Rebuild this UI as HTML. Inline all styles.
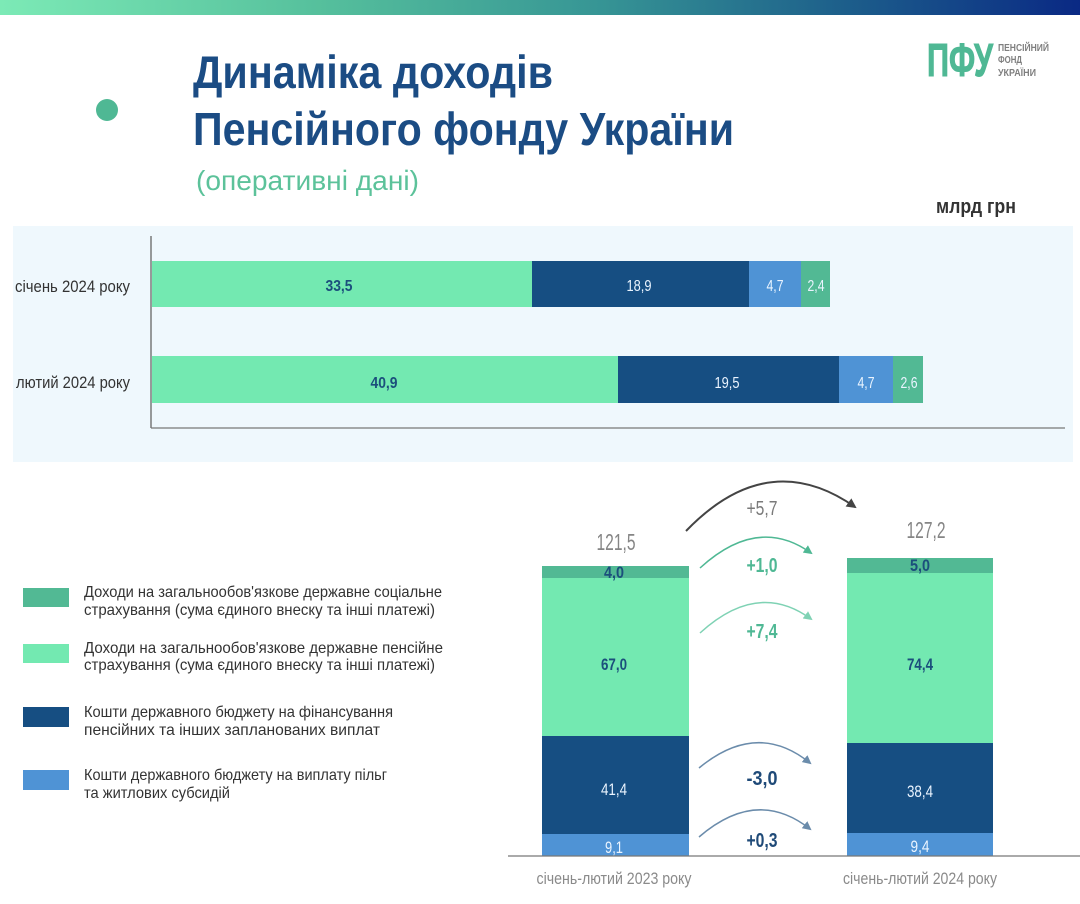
<!DOCTYPE html>
<html><head><meta charset="utf-8">
<style>
html,body{margin:0;padding:0;background:#fff;}
svg{display:block;}
text{font-family:"Liberation Sans Narrow","Liberation Sans","DejaVu Sans Condensed",sans-serif;}
</style></head>
<body>
<svg width="1080" height="904" viewBox="0 0 1080 904" xmlns="http://www.w3.org/2000/svg">
<defs>
<linearGradient id="tg" x1="0" y1="0" x2="1" y2="0">
<stop offset="0" stop-color="#7ceab6"/>
<stop offset="0.3" stop-color="#55bf9c"/>
<stop offset="0.55" stop-color="#379695"/>
<stop offset="0.78" stop-color="#1d5f8b"/>
<stop offset="1" stop-color="#0a2984"/>
</linearGradient>
<marker id="mk" markerWidth="10" markerHeight="10" refX="8" refY="5" orient="auto" markerUnits="userSpaceOnUse"><path d="M0,0 L10,5 L0,10 Z" fill="#444"/></marker>
<marker id="mg1" markerWidth="9" markerHeight="9" refX="7" refY="4.5" orient="auto" markerUnits="userSpaceOnUse"><path d="M0,0 L9,4.5 L0,9 Z" fill="#4fb894"/></marker>
<marker id="mg2" markerWidth="9" markerHeight="9" refX="7" refY="4.5" orient="auto" markerUnits="userSpaceOnUse"><path d="M0,0 L9,4.5 L0,9 Z" fill="#7fd2b4"/></marker>
<marker id="mb" markerWidth="9" markerHeight="9" refX="7" refY="4.5" orient="auto" markerUnits="userSpaceOnUse"><path d="M0,0 L9,4.5 L0,9 Z" fill="#6b8cab"/></marker>
</defs>

<!-- top gradient bar -->
<rect x="0" y="0" width="1080" height="15" fill="url(#tg)"/>

<!-- header -->
<circle cx="107" cy="110" r="11" fill="#4fb894"/>
<text x="193" y="88" font-size="46" font-weight="bold" fill="#1b4c84" textLength="360" lengthAdjust="spacingAndGlyphs">Динаміка доходів</text>
<text x="193" y="145" font-size="46" font-weight="bold" fill="#1b4c84" textLength="541" lengthAdjust="spacingAndGlyphs">Пенсійного фонду України</text>
<text x="196" y="190" font-size="28" fill="#5cc29a" textLength="223" lengthAdjust="spacingAndGlyphs">(оперативні дані)</text>

<!-- logo -->
<text x="927" y="76" font-size="46" font-weight="bold" fill="#4fb894" textLength="66" lengthAdjust="spacingAndGlyphs" stroke="#4fb894" stroke-width="1">ПФУ</text>
<text x="998" y="51" font-size="10" font-weight="bold" fill="#7f7f7f" textLength="51" lengthAdjust="spacingAndGlyphs">ПЕНСІЙНИЙ</text>
<text x="998" y="63" font-size="10" font-weight="bold" fill="#7f7f7f" textLength="24" lengthAdjust="spacingAndGlyphs">ФОНД</text>
<text x="998" y="76" font-size="10" font-weight="bold" fill="#7f7f7f" textLength="38" lengthAdjust="spacingAndGlyphs">УКРАЇНИ</text>

<text x="936" y="213" font-size="20" font-weight="bold" fill="#333" textLength="80" lengthAdjust="spacingAndGlyphs">млрд грн</text>

<!-- top panel -->
<rect x="13" y="226" width="1060" height="236" fill="#eff8fd"/>
<line x1="151" y1="236" x2="151" y2="428" stroke="#666" stroke-width="1.3"/>
<line x1="151" y1="428" x2="1065" y2="428" stroke="#777" stroke-width="1.3"/>

<!-- row 1 -->
<rect x="152" y="261" width="380" height="46" fill="#73e9b1"/>
<rect x="532" y="261" width="217" height="46" fill="#164e82"/>
<rect x="749" y="261" width="52" height="46" fill="#4f93d5"/>
<rect x="801" y="261" width="29" height="46" fill="#52b994"/>
<!-- row 2 -->
<rect x="152" y="356" width="466" height="47" fill="#73e9b1"/>
<rect x="618" y="356" width="221" height="47" fill="#164e82"/>
<rect x="839" y="356" width="54" height="47" fill="#4f93d5"/>
<rect x="893" y="356" width="30" height="47" fill="#52b994"/>

<text x="130" y="292" font-size="17" fill="#333" text-anchor="end" textLength="115" lengthAdjust="spacingAndGlyphs">січень 2024 року</text>
<text x="130" y="388" font-size="17" fill="#333" text-anchor="end" textLength="114" lengthAdjust="spacingAndGlyphs">лютий 2024 року</text>

<g font-size="16" text-anchor="middle">
<text x="339" y="291" fill="#1b4f7c" font-weight="bold" textLength="27" lengthAdjust="spacingAndGlyphs">33,5</text>
<text x="639" y="291" fill="#eaf4ff" textLength="25" lengthAdjust="spacingAndGlyphs">18,9</text>
<text x="775" y="291" fill="#eaf4ff" textLength="17" lengthAdjust="spacingAndGlyphs">4,7</text>
<text x="816" y="291" fill="#eaf4ff" textLength="17" lengthAdjust="spacingAndGlyphs">2,4</text>
<text x="384" y="388" fill="#1b4f7c" font-weight="bold" textLength="27" lengthAdjust="spacingAndGlyphs">40,9</text>
<text x="727" y="388" fill="#eaf4ff" textLength="25" lengthAdjust="spacingAndGlyphs">19,5</text>
<text x="866" y="388" fill="#eaf4ff" textLength="17" lengthAdjust="spacingAndGlyphs">4,7</text>
<text x="909" y="388" fill="#eaf4ff" textLength="17" lengthAdjust="spacingAndGlyphs">2,6</text>
</g>

<!-- legend -->
<rect x="23" y="588" width="46" height="19" fill="#52b994"/>
<rect x="23" y="644" width="46" height="19" fill="#73e9b1"/>
<rect x="23" y="707" width="46" height="20" fill="#164e82"/>
<rect x="23" y="770" width="46" height="20" fill="#4f93d5"/>
<g font-size="16" fill="#333">
<text x="84" y="597" textLength="358" lengthAdjust="spacingAndGlyphs">Доходи на загальнообов'язкове державне соціальне</text>
<text x="84" y="615" textLength="351" lengthAdjust="spacingAndGlyphs">страхування (сума єдиного внеску та інші платежі)</text>
<text x="84" y="653" textLength="359" lengthAdjust="spacingAndGlyphs">Доходи на загальнообов'язкове державне пенсійне</text>
<text x="84" y="670" textLength="351" lengthAdjust="spacingAndGlyphs">страхування (сума єдиного внеску та інші платежі)</text>
<text x="84" y="717" textLength="309" lengthAdjust="spacingAndGlyphs">Кошти державного бюджету на фінансування</text>
<text x="84" y="735" textLength="296" lengthAdjust="spacingAndGlyphs">пенсійних та інших запланованих виплат</text>
<text x="84" y="780" textLength="303" lengthAdjust="spacingAndGlyphs">Кошти державного бюджету на виплату пільг</text>
<text x="84" y="798" textLength="146" lengthAdjust="spacingAndGlyphs">та житлових субсидій</text>
</g>

<!-- bottom chart -->
<rect x="542" y="566" width="147" height="12" fill="#52b994"/>
<rect x="542" y="578" width="147" height="158" fill="#73e9b1"/>
<rect x="542" y="736" width="147" height="98" fill="#164e82"/>
<rect x="542" y="834" width="147" height="22" fill="#4f93d5"/>

<rect x="847" y="558" width="146" height="15" fill="#52b994"/>
<rect x="847" y="573" width="146" height="170" fill="#73e9b1"/>
<rect x="847" y="743" width="146" height="90" fill="#164e82"/>
<rect x="847" y="833" width="146" height="23" fill="#4f93d5"/>

<line x1="508" y1="856" x2="1080" y2="856" stroke="#777" stroke-width="1.3"/>

<g font-size="17" text-anchor="middle">
<text x="614" y="578" fill="#1b4f7c" font-weight="bold" textLength="20" lengthAdjust="spacingAndGlyphs">4,0</text>
<text x="614" y="670" fill="#1b4f7c" font-weight="bold" textLength="26" lengthAdjust="spacingAndGlyphs">67,0</text>
<text x="614" y="795" fill="#eaf4ff" textLength="26" lengthAdjust="spacingAndGlyphs">41,4</text>
<text x="614" y="853" fill="#eaf4ff" textLength="18" lengthAdjust="spacingAndGlyphs">9,1</text>
<text x="920" y="571" fill="#1b4f7c" font-weight="bold" textLength="20" lengthAdjust="spacingAndGlyphs">5,0</text>
<text x="920" y="670" fill="#1b4f7c" font-weight="bold" textLength="26" lengthAdjust="spacingAndGlyphs">74,4</text>
<text x="920" y="797" fill="#eaf4ff" textLength="26" lengthAdjust="spacingAndGlyphs">38,4</text>
<text x="920" y="852" fill="#eaf4ff" textLength="19" lengthAdjust="spacingAndGlyphs">9,4</text>
</g>

<text x="616" y="550" font-size="23" fill="#858585" text-anchor="middle" textLength="39" lengthAdjust="spacingAndGlyphs">121,5</text>
<text x="926" y="538" font-size="23" fill="#858585" text-anchor="middle" textLength="39" lengthAdjust="spacingAndGlyphs">127,2</text>

<!-- arrows -->
<path d="M686,531 Q768,446 855,507" fill="none" stroke="#444" stroke-width="2" marker-end="url(#mk)"/>
<path d="M700,568 Q758,515 811,553" fill="none" stroke="#4fb894" stroke-width="1.5" marker-end="url(#mg1)"/>
<path d="M700,633 Q758,580 811,619" fill="none" stroke="#7fd2b4" stroke-width="1.5" marker-end="url(#mg2)"/>
<path d="M699,768 Q757,720 810,763" fill="none" stroke="#6b8cab" stroke-width="1.5" marker-end="url(#mb)"/>
<path d="M699,837 Q757,787 810,829" fill="none" stroke="#6b8cab" stroke-width="1.5" marker-end="url(#mb)"/>

<g font-size="20" text-anchor="middle">
<text x="762" y="515" fill="#7a7a7a" textLength="31" lengthAdjust="spacingAndGlyphs">+5,7</text>
<text x="762" y="572" fill="#4fb894" font-weight="bold" textLength="31" lengthAdjust="spacingAndGlyphs">+1,0</text>
<text x="762" y="638" fill="#4fb894" font-weight="bold" textLength="31" lengthAdjust="spacingAndGlyphs">+7,4</text>
<text x="762" y="785" fill="#1f4a78" font-weight="bold" textLength="31" lengthAdjust="spacingAndGlyphs">-3,0</text>
<text x="762" y="847" fill="#1f4a78" font-weight="bold" textLength="31" lengthAdjust="spacingAndGlyphs">+0,3</text>
</g>

<text x="614" y="884" font-size="17" fill="#8a8a8a" text-anchor="middle" textLength="155" lengthAdjust="spacingAndGlyphs">січень-лютий 2023 року</text>
<text x="920" y="884" font-size="17" fill="#8a8a8a" text-anchor="middle" textLength="154" lengthAdjust="spacingAndGlyphs">січень-лютий 2024 року</text>
</svg>
</body></html>
